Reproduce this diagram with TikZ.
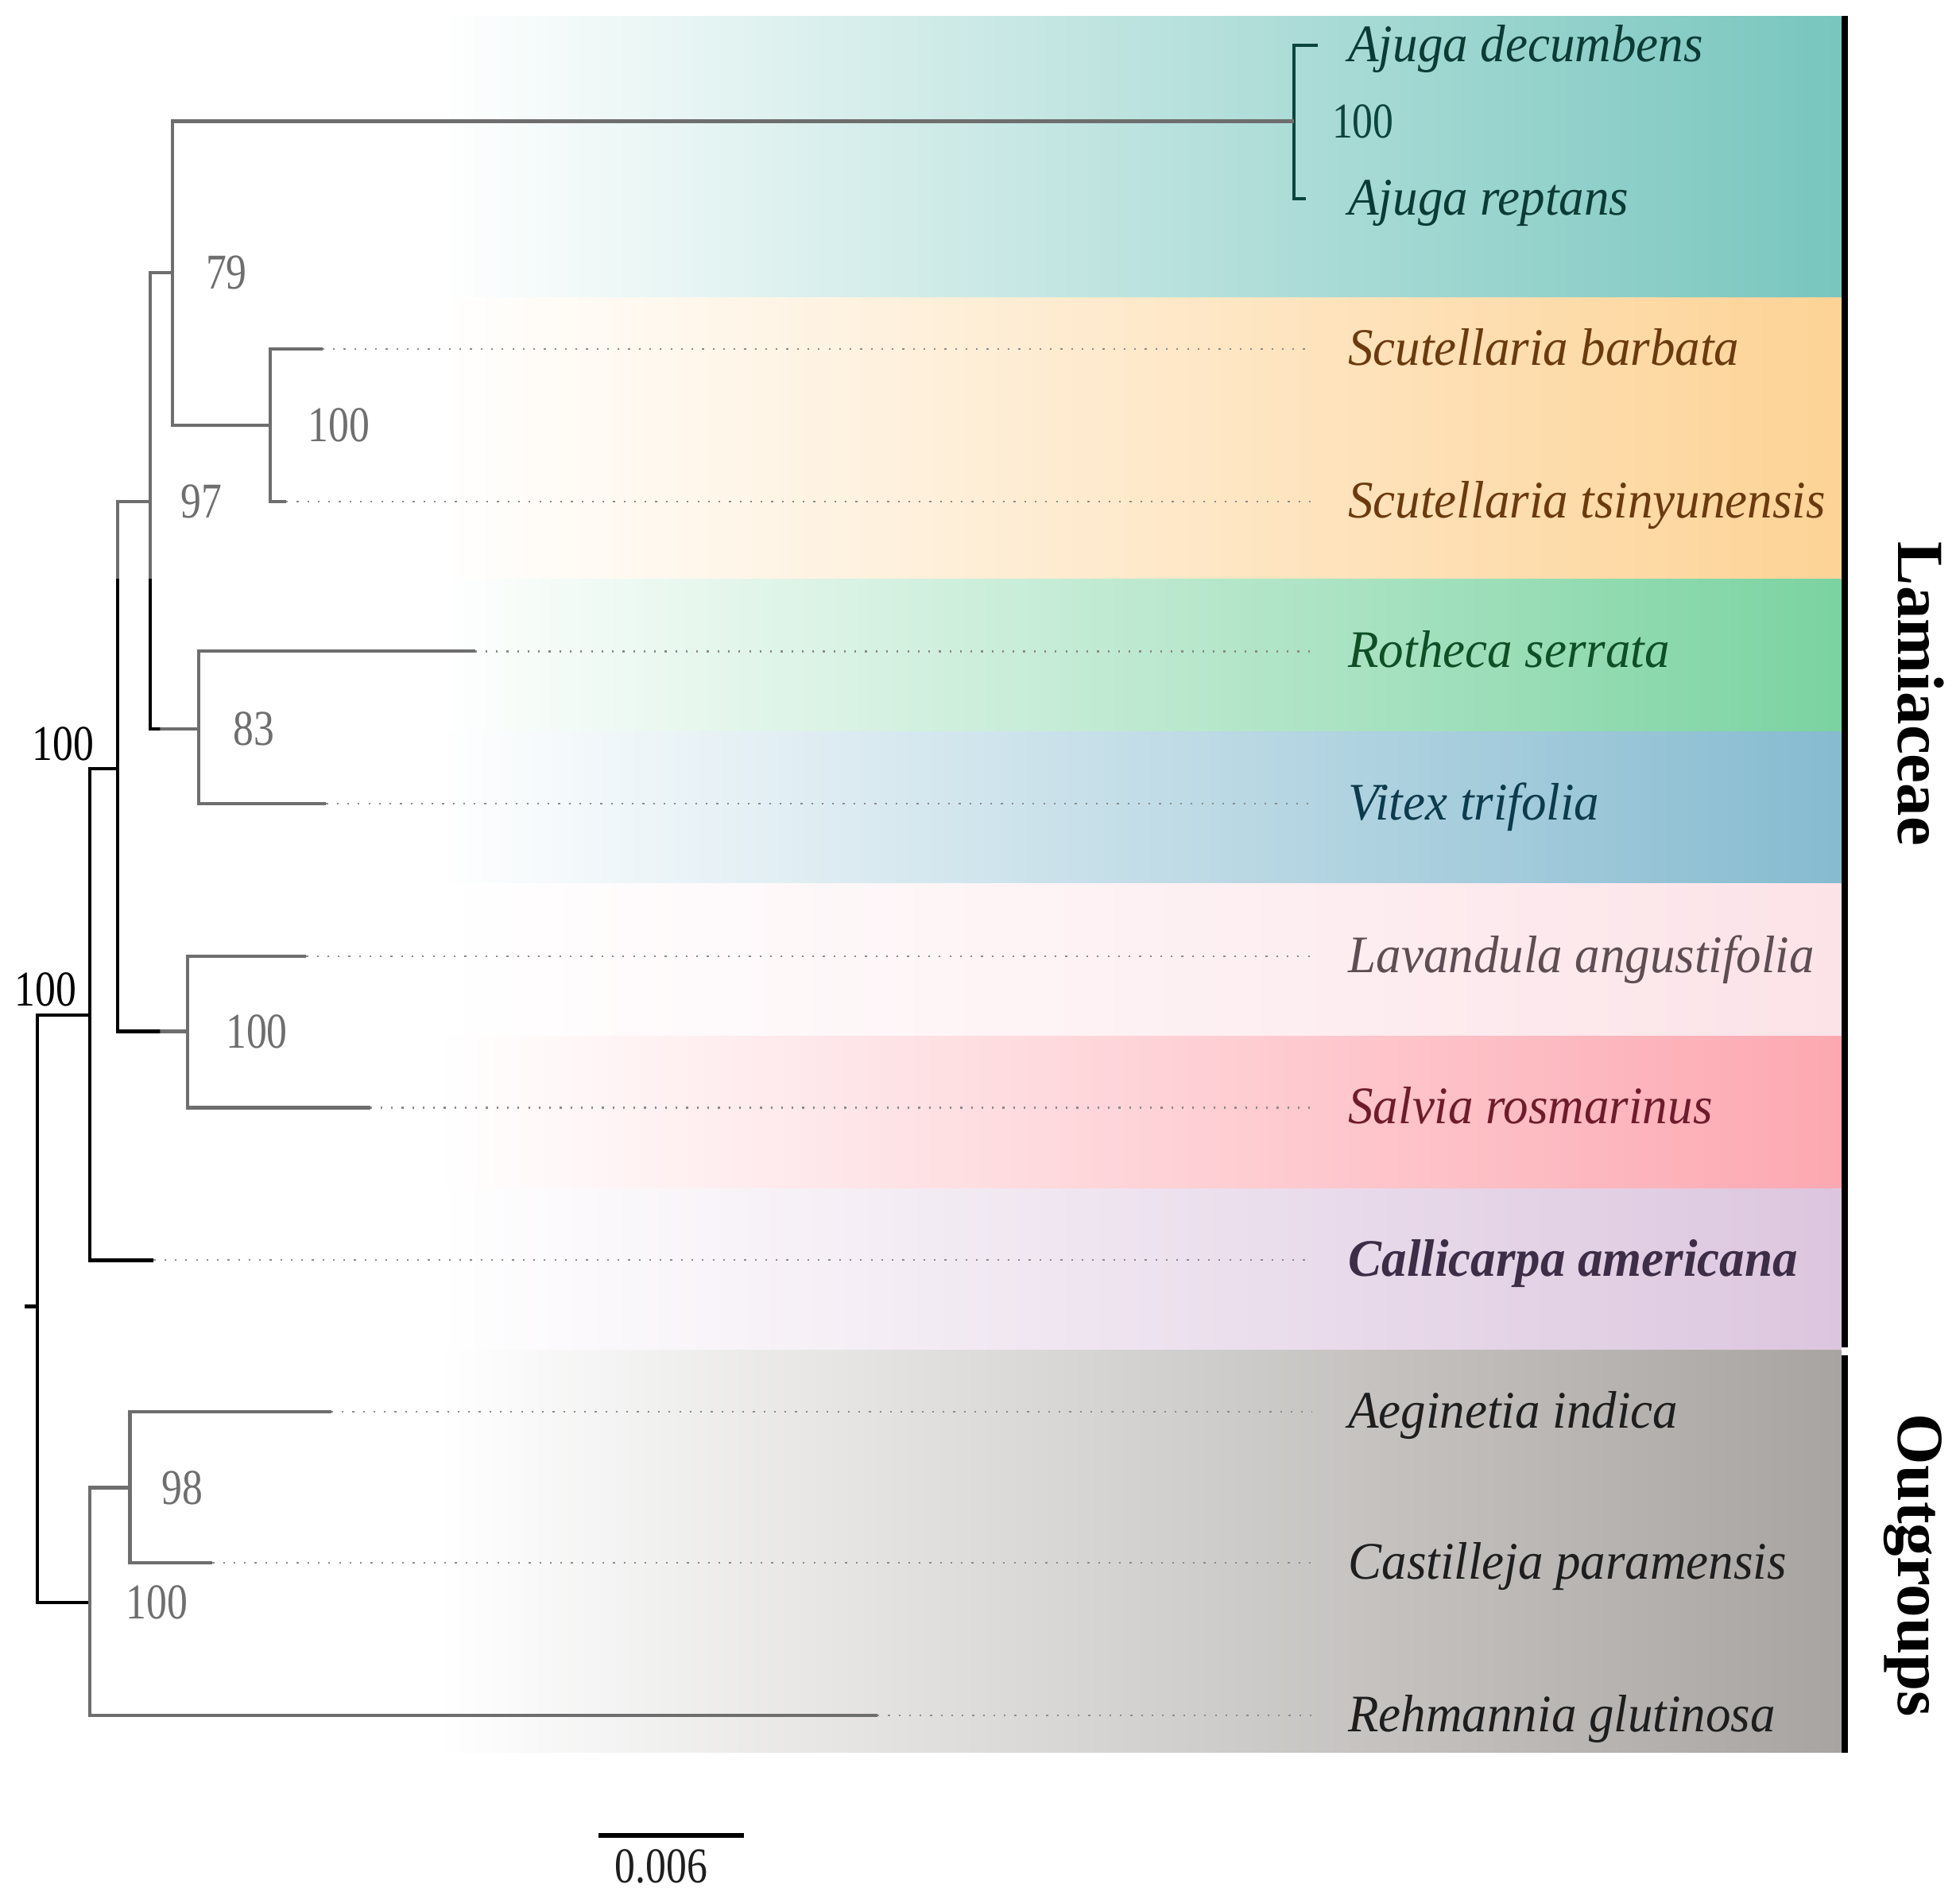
\documentclass[tikz,border=0pt]{standalone}
\usepackage{fontspec}
\setmainfont{Liberation Serif}
\newfontfamily\taxfont[FakeStretch=0.95]{Liberation Serif}
\newfontfamily\bootfont[FakeStretch=0.82]{Liberation Serif}
\usepackage{tikz}
\usetikzlibrary{positioning, calc}
\definecolor{branchgray}{HTML}{6E6E6E}
\definecolor{ajugadark}{HTML}{0C443E}
\definecolor{bandteal}{HTML}{78C6BE}
\definecolor{bandorange}{HTML}{FDD396}
\definecolor{bandgreen}{HTML}{7BD3A1}
\definecolor{bandblue}{HTML}{86BBD0}
\definecolor{bandblush}{HTML}{FCE3E8}
\definecolor{bandrose}{HTML}{FDA8B1}
\definecolor{bandlilac}{HTML}{DCC6DF}
\definecolor{bandgray}{HTML}{A8A4A1}
\definecolor{txtteal}{HTML}{0B3B35}
\definecolor{txtbrown}{HTML}{6B3A0E}
\definecolor{txtgreen}{HTML}{0E4F26}
\definecolor{txtblue}{HTML}{0D3B4E}
\definecolor{txtmauve}{HTML}{5E4D52}
\definecolor{txtred}{HTML}{6E1C2C}
\definecolor{txtplum}{HTML}{3D2D47}
\definecolor{txtdark}{HTML}{1E1E1E}

\begin{document}
\begin{tikzpicture}[
  x=0.1mm, y=-0.1mm,
  band/.style={left color=white, right color=#1, draw=none},
  branch/.style={draw=branchgray, line width=0.75pt},
  rootbranch/.style={draw=black, line width=0.8pt},
  ajugabranch/.style={draw=ajugadark, line width=0.75pt},
  leader/.style={draw=branchgray!80, line width=0.4pt, dotted},
  taxon/.style={anchor=base west, inner xsep=2.8mm, inner ysep=0pt, font=\taxfont\itshape\fontsize{12}{14}\selectfont},
  support/.style={inner sep=0pt, text=branchgray, font=\bootfont\fontsize{11.4}{13}\selectfont},
  clade/.style={rotate=-90, anchor=base, font=\bfseries\fontsize{15}{18}\selectfont}
]
  \useasboundingbox (0,0) rectangle (1568,1522);

  \shade[band=bandteal] (350,13) rectangle (1473,238);
  \shade[band=bandorange] (350,238) rectangle (1473,463);
  \shade[band=bandgreen] (350,463) rectangle (1473,585);
  \shade[band=bandblue] (350,585) rectangle (1473,707);
  \shade[band=bandblush] (350,707) rectangle (1473,829);
  \shade[band=bandrose] (350,829) rectangle (1473,951);
  \shade[band=bandlilac] (350,951) rectangle (1473,1080);
  \shade[band=bandgray] (350,1080) rectangle (1473,1402);

  \coordinate (lamTop) at (1476,13);
  \coordinate (lamBot) at (1476,1078);
  \coordinate (outTop) at (1476,1084);
  \coordinate (outBot) at (1476,1402);
  \draw[line width=1.5pt] (lamTop) -- (lamBot);
  \draw[line width=1.5pt] (outTop) -- (outBot);

  \coordinate (stem) at (20,1045);
  \coordinate (root) at (30,1045);
  \coordinate (nA) at (72,812);
  \coordinate (nB) at (94,615);
  \coordinate (nC) at (120,401);
  \coordinate (nD) at (138,218);
  \coordinate (nAj) at (1035,97);
  \coordinate (nSc) at (216,340);
  \coordinate (nRV) at (159,583);
  \coordinate (nLS) at (150,825);
  \coordinate (nOut) at (72,1282);
  \coordinate (nAC) at (104,1190);

  \coordinate (tAdec) at (1054,36);
  \coordinate (tArep) at (1045,159);
  \coordinate (tSbar) at (258,279);
  \coordinate (tStsi) at (229,401);
  \coordinate (tRot) at (380,521);
  \coordinate (tVit) at (261,643);
  \coordinate (tLav) at (245,765);
  \coordinate (tSal) at (296,886);
  \coordinate (tCal) at (123,1008);
  \coordinate (tAeg) at (265,1129);
  \coordinate (tCas) at (170,1250);
  \coordinate (tReh) at (702,1372);

  \node[taxon, text=txtteal] (lAdec) at (1050,49) {Ajuga decumbens};
  \node[taxon, text=txtteal] (lArep) at (1050,172) {Ajuga reptans};
  \node[taxon, text=txtbrown] (lSbar) at (1050,292) {Scutellaria barbata};
  \node[taxon, text=txtbrown] (lStsi) at (1050,414) {Scutellaria tsinyunensis};
  \node[taxon, text=txtgreen] (lRot) at (1050,534) {Rotheca serrata};
  \node[taxon, text=txtblue] (lVit) at (1050,656) {Vitex trifolia};
  \node[taxon, text=txtmauve] (lLav) at (1050,778) {Lavandula angustifolia};
  \node[taxon, text=txtred] (lSal) at (1050,899) {Salvia rosmarinus};
  \node[taxon, text=txtplum, font=\taxfont\bfseries\itshape\fontsize{12}{14}\selectfont] (lCal) at (1050,1021) {Callicarpa americana};
  \node[taxon, text=txtdark] (lAeg) at (1050,1142) {Aeginetia indica};
  \node[taxon, text=txtdark] (lCas) at (1050,1263) {Castilleja paramensis};
  \node[taxon, text=txtdark] (lReh) at (1050,1385) {Rehmannia glutinosa};

  \draw[leader] (tSbar) -- (tSbar -| lSbar.west);
  \draw[leader] (tStsi) -- (tStsi -| lStsi.west);
  \draw[leader] (tRot) -- (tRot -| lRot.west);
  \draw[leader] (tVit) -- (tVit -| lVit.west);
  \draw[leader] (tLav) -- (tLav -| lLav.west);
  \draw[leader] (tSal) -- (tSal -| lSal.west);
  \draw[leader] (tCal) -- (tCal -| lCal.west);
  \draw[leader] (tAeg) -- (tAeg -| lAeg.west);
  \draw[leader] (tCas) -- (tCas -| lCas.west);
  \draw[leader] (tReh) -- (tReh -| lReh.west);

  \draw[ajugabranch] (tAdec) -| (nAj) |- (tArep);
  \draw[branch] (nAj) -| (nD) |- (nSc);
  \draw[branch] (tSbar) -| (nSc) |- (tStsi);
  \draw[branch] (nD) -| (nC) |- (nRV);
  \draw[branch] (tRot) -| (nRV) |- (tVit);
  \draw[branch] (nC) -| (nB) |- (nLS);
  \draw[branch] (tLav) -| (nLS) |- (tSal);
  \begin{scope}
    \clip (0,463) rectangle (128,1080);
    \draw[rootbranch] (nD) -| (nC) |- (nRV);
    \draw[rootbranch] (nC) -| (nB) |- (nLS);
  \end{scope}
  \draw[rootbranch] (nB) -| (nA) |- (tCal);
  \draw[rootbranch] (nA) -| (root) |- (nOut);
  \draw[rootbranch] (root) -- (stem);
  \draw[branch] (nAC) -| (nOut) |- (tReh);
  \draw[branch] (tAeg) -| (nAC) |- (tCas);

  \node[support, text=ajugadark, right=3mm of nAj] (sAj) {100};
  \node[support, right=2.6mm of nD] (sD) {79};
  \node[support, right=2.4mm of nC] (sC) {97};
  \node[support, right=3mm of nSc] (sSc) {100};
  \node[support, right=2.7mm of nRV] (sRV) {83};
  \node[support, right=3mm of nLS] (sLS) {100};
  \node[support, text=black, above left=0.6mm and 1.8mm of nB] (sB) {100};
  \node[support, text=black, above left=0.6mm and 1mm of nA] (sA) {100};
  \node[support, right=2.8mm of nOut] (sOut) {100};
  \node[support, right=2.5mm of nAC] (sAC) {98};

  \node[clade] (gLam) at (1519,555) {Lamiaceae};
  \node[clade] (gOut) at (1519,1252) {Outgroups};

  \coordinate (sbL) at (479,1468);
  \coordinate (sbR) at (595,1468);
  \draw[line width=1pt] (sbL) -- (sbR);
  \node[support, text=txtdark] (sbT) at (529,1493) {0.006};
\end{tikzpicture}
\end{document}
